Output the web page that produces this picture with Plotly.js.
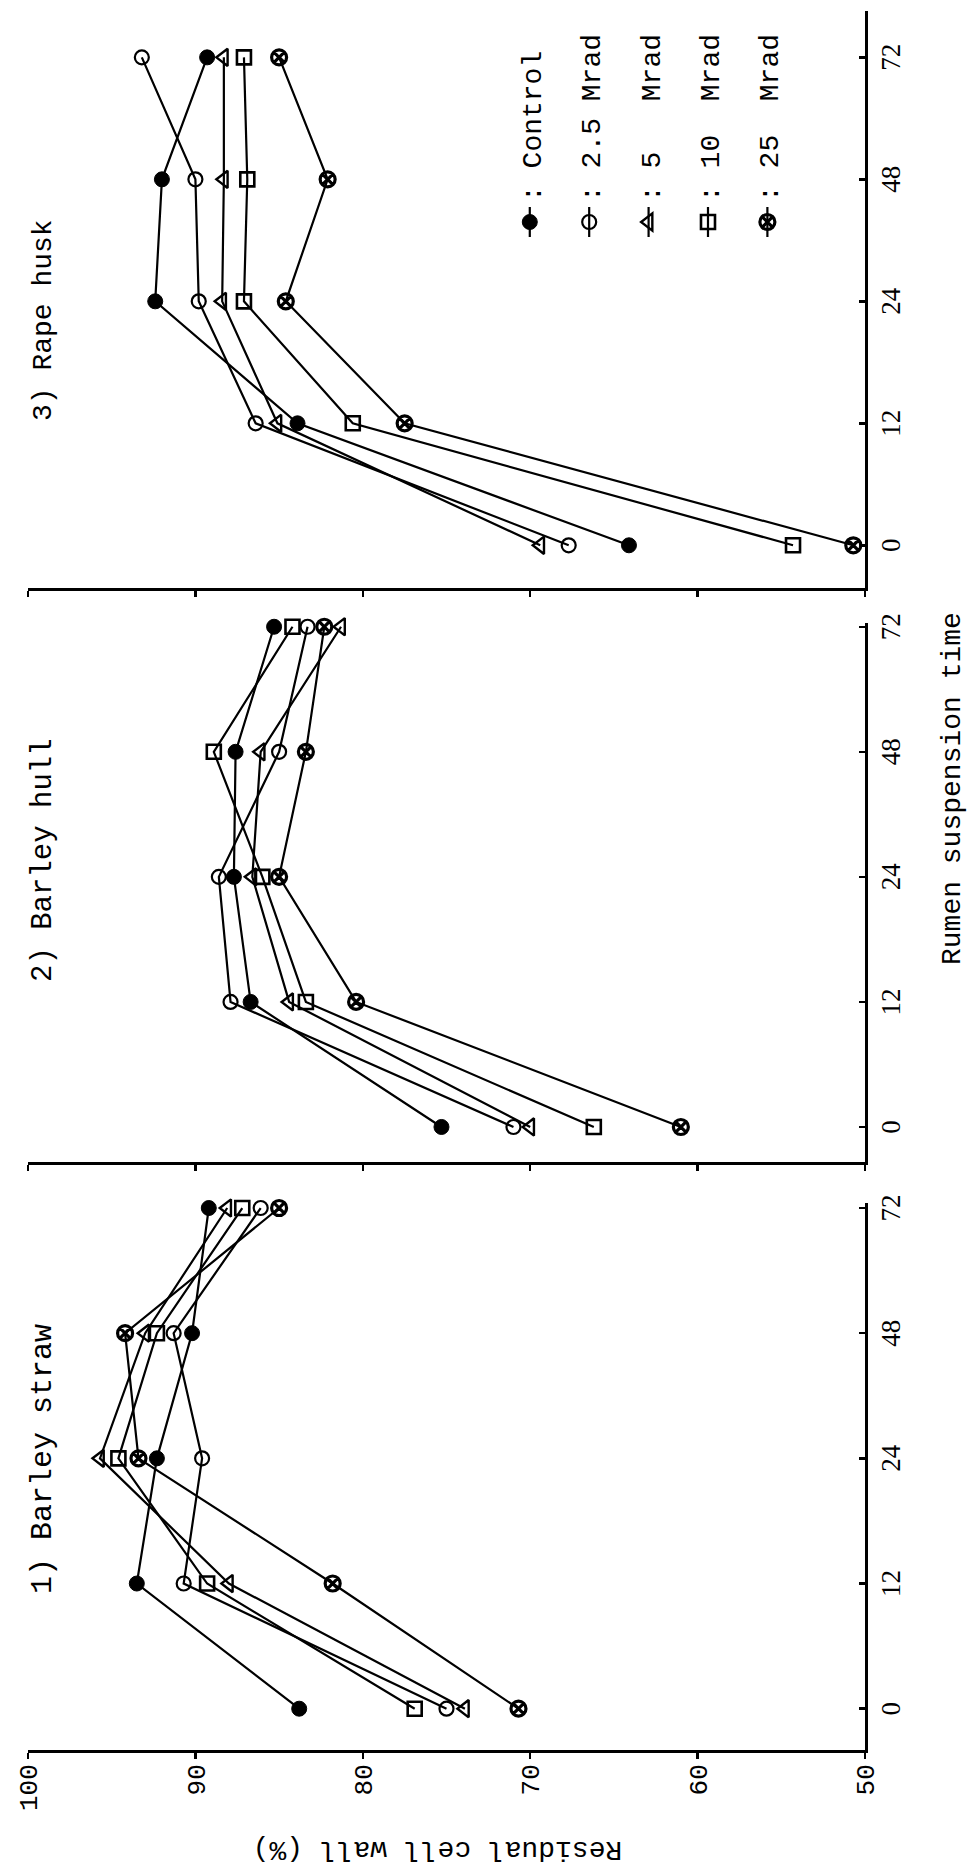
<!DOCTYPE html>
<html><head><meta charset="utf-8">
<script src="https://cdn.plot.ly/plotly-3.0.1.min.js"></script>
<style>
html,body{margin:0;padding:0;background:#fff;overflow:hidden;}
#wrap{position:relative;width:970px;height:1870px;overflow:hidden;background:#fff;}
#plot{position:absolute;left:0;top:0;width:1870px;height:970px;transform-origin:0 0;}
#plot.rot{transform:translateY(1870px) rotate(-90deg);}
</style></head>
<body><div id="wrap"><div id="plot"></div></div>
<script>
// ---- data ----
const times = ['0', '12', '24', '48', '72'];
const seriesNames = ['Control', '2.5 Mrad', '5 Mrad', '10 Mrad', '25 Mrad'];
const legendLabels = [':\u00a0Control', ':\u00a02.5\u00a0Mrad', ':\u00a05\u00a0\u00a0\u00a0Mrad', ':\u00a010\u00a0\u00a0Mrad', ':\u00a025\u00a0\u00a0Mrad'];
const panelTitles = ['1) Barley straw', '2) Barley hull', '3) Rape husk'];
const residualTicks = [50, 60, 70, 80, 90, 100];

// 1) Barley straw
const strawControl = [83.8, 93.5, 92.3, 90.2, 89.2];
const straw25 = [75.0, 90.7, 89.6, 91.3, 86.1];
const straw5 = [73.9, 88.0, 95.7, 93.0, 88.1];
const straw10 = [76.9, 89.3, 94.6, 92.3, 87.2];
const straw25M = [70.7, 81.8, 93.4, 94.2, 85.0];

// 2) Barley hull
const hullControl = [75.3, 86.7, 87.7, 87.6, 85.3];
const hull25 = [71.0, 87.9, 88.6, 85.0, 83.3];
const hull5 = [70.0, 84.4, 86.6, 86.1, 81.3];
const hull10 = [66.2, 83.4, 86.0, 88.9, 84.2];
const hull25M = [61.0, 80.4, 85.0, 83.4, 82.3];

// 3) Rape husk
const huskControl = [64.1, 83.9, 92.4, 92.0, 89.3];
const husk25 = [67.7, 86.4, 89.8, 90.0, 93.2];
const husk5 = [69.4, 85.1, 88.4, 88.3, 88.3];
const husk10 = [54.3, 80.6, 87.1, 86.9, 87.1];
const husk25M = [50.7, 77.5, 84.6, 82.1, 85.0];

const panels = [
  [strawControl, straw25, straw5, straw10, straw25M],
  [hullControl, hull25, hull5, hull10, hull25M],
  [huskControl, husk25, husk5, husk10, husk25M]
];

// ---- styles ----
const symbols = ['circle', 'circle-open', 'triangle-up-open', 'square-open', 'circle-x-open'];
const sizes = [15, 14, 15, 14, 15];
const mlw = [1, 2.2, 2.4, 2.6, 3.2];
const axisSuffix = ['', '2', '3'];

const traces = [];
panels.forEach((series, p) => {
  series.forEach((vals, s) => {
    traces.push({
      type: 'scatter', mode: 'lines+markers',
      x: times, y: vals,
      xaxis: 'x' + axisSuffix[p], yaxis: 'y' + axisSuffix[p],
      name: legendLabels[s],
      legendgroup: seriesNames[s],
      showlegend: p === 2,
      cliponaxis: false,
      line: {color: '#000', width: 2.2},
      marker: {symbol: symbols[s], size: sizes[s], color: '#000', line: {color: '#000', width: mlw[s]}}
    });
  });
});

const monoFont = 'Liberation Mono, Courier New, monospace';
const serifFont = 'Liberation Serif, Times New Roman, serif';

function xAxis(domain, range) {
  return {
    type: 'category', categoryorder: 'array', categoryarray: times,
    domain: domain, range: range,
    showline: true, linecolor: '#000', linewidth: 3,
    ticks: 'inside', ticklen: 6, tickwidth: 2.5, tickcolor: '#000',
    showgrid: false, zeroline: false,
    tickfont: {family: serifFont, size: 27, color: '#000'}
  };
}
function yAxis(anchor, labels) {
  return {
    anchor: anchor, range: [50, 100], tickvals: residualTicks,
    showticklabels: labels,
    showline: true, linecolor: '#000', linewidth: 3,
    ticks: 'outside', ticklen: 6, tickwidth: 2.5, tickcolor: '#000',
    showgrid: false, zeroline: false,
    tickfont: {family: monoFont, size: 26, color: '#000'}
  };
}

const W = 1870;
const layout = {
  width: 1870, height: 970,
  margin: {l: 0, r: 0, t: 28, b: 105, pad: 0},
  paper_bgcolor: '#fff', plot_bgcolor: '#fff',
  font: {family: monoFont, color: '#000', size: 26},
  xaxis: xAxis([120 / W, 667 / W], [-0.33, 4.04]),
  xaxis2: xAxis([708 / W, 1247 / W], [-0.28, 4.03]),
  xaxis3: xAxis([1282 / W, 1859 / W], [-0.35, 4.38]),
  yaxis: yAxis('x', true),
  yaxis2: yAxis('x2', false),
  yaxis3: yAxis('x3', false),
  showlegend: true,
  legend: {
    x: 1628 / W, xanchor: 'left', y: 0.43, yanchor: 'top',
    bgcolor: 'rgba(0,0,0,0)', borderwidth: 0,
    traceorder: 'grouped', tracegroupgap: 20,
    font: {family: monoFont, size: 28, color: '#000'},
    itemclick: false, itemdoubleclick: false
  },
  annotations: [
    {text: panelTitles[0], xref: 'paper', yref: 'paper', x: 274 / W, y: 0.982, xanchor: 'left', yanchor: 'middle', showarrow: false, font: {family: monoFont, size: 30}},
    {text: panelTitles[1], xref: 'paper', yref: 'paper', x: 886 / W, y: 0.982, xanchor: 'left', yanchor: 'middle', showarrow: false, font: {family: monoFont, size: 29}},
    {text: panelTitles[2], xref: 'paper', yref: 'paper', x: 1447 / W, y: 0.982, xanchor: 'left', yanchor: 'middle', showarrow: false, font: {family: monoFont, size: 28}},
    {text: 'Rumen suspension time', xref: 'paper', yref: 'paper', x: 1081 / W, y: -0.104, xanchor: 'center', yanchor: 'middle', showarrow: false, font: {family: monoFont, size: 28}},
    {text: 'Residual cell wall (%)', xref: 'paper', yref: 'paper', x: 20 / W, y: 0.511, xanchor: 'center', yanchor: 'middle', textangle: -90, showarrow: false, font: {family: monoFont, size: 28}}
  ]
};

Plotly.newPlot('plot', traces, layout, {displayModeBar: false, staticPlot: true}).then(() => {
  document.getElementById('plot').classList.add('rot');
});
</script>
</body></html>
